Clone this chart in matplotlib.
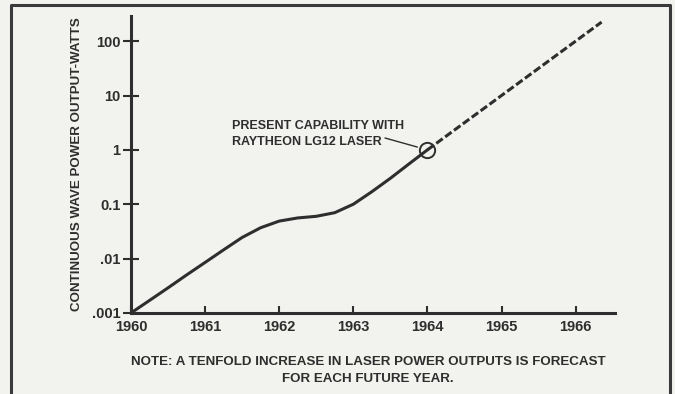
import matplotlib
matplotlib.use("Agg")
import matplotlib.pyplot as plt
from matplotlib.lines import Line2D

# measured output, watts
years = [1960.0, 1960.25, 1960.5, 1960.75, 1961.0, 1961.25, 1961.5, 1961.75,
         1962.0, 1962.25, 1962.5, 1962.75, 1963.0, 1963.25, 1963.5, 1963.75, 1964.0]
watts = [0.001, 0.0017, 0.0029, 0.005, 0.0085, 0.0145, 0.0245, 0.037,
         0.049, 0.056, 0.06, 0.07, 0.1, 0.17, 0.3, 0.55, 1.0]

# forecast: tenfold per year
fc_years = [1964.0, 1965.0, 1966.0, 1966.35]
fc_watts = [1.0, 10.0, 100.0, 224.0]

present_year = 1964.0
present_watts = 1.0

xticks = [1960, 1961, 1962, 1963, 1964, 1965, 1966]
yticks = [0.001, 0.01, 0.1, 1, 10, 100]
ylabels = [".001", ".01", "0.1", "1", "10", "100"]

ink = "#2e2e2e"
paper = "#f2f2ef"
plt.rcParams["font.family"] = ["Liberation Sans", "DejaVu Sans"]
plt.rcParams["font.weight"] = "bold"

fig = plt.figure(figsize=(6.75, 3.94), dpi=100, facecolor=paper)
ax = fig.add_axes([0.194, 0.2056, 0.717, 0.7534])
ax.set_facecolor(paper)

ax.plot(years, watts, color=ink, lw=2.2, solid_capstyle="round",
        solid_joinstyle="round")
ax.plot(fc_years, fc_watts, color=ink, lw=2.2, linestyle=(0, (2.6, 1.0)))
ax.plot([present_year], [present_watts], marker="o", ms=11, mfc="none",
        mec=ink, mew=1.4, zorder=5)

ax.text(232, 394 - 134, "PRESENT CAPABILITY WITH\nRAYTHEON LG12 LASER",
        transform=None, fontsize=9, color=ink, ha="left", va="center",
        linespacing=1.5)
ax.annotate("", xy=(present_year, present_watts), xytext=(385, 394 - 138),
            textcoords="figure pixels",
            arrowprops=dict(arrowstyle="-", color=ink, lw=1.0,
                            shrinkA=0, shrinkB=7.5))

ax.set_yscale("log")
ax.set_xlim(1960, 1966.53)
ax.set_ylim(0.001, 288)
ax.set_xticks(xticks)
ax.set_xticklabels([str(y) for y in xticks])
ax.set_yticks(yticks)
ax.set_yticklabels(ylabels)
ax.minorticks_off()

for s in ["top", "right"]:
    ax.spines[s].set_visible(False)
for s in ["left", "bottom"]:
    ax.spines[s].set_color(ink)
    ax.spines[s].set_linewidth(2.2)

ax.tick_params(axis="y", direction="inout", length=11, width=1.5, color=ink,
               labelsize=10.5, labelcolor=ink, pad=2)
ax.tick_params(axis="x", direction="in", length=5, width=1.5, color=ink,
               labelsize=10.5, labelcolor=ink, pad=5)

ax.set_ylabel("CONTINUOUS WAVE POWER OUTPUT-WATTS", fontsize=9.6,
              fontweight="bold", color=ink)
ax.yaxis.set_label_coords(-0.100, 0.5)

fig.text(0.545, 0.0596, "NOTE: A TENFOLD INCREASE IN LASER POWER OUTPUTS IS FORECAST\nFOR EACH FUTURE YEAR.",
         ha="center", va="center", fontsize=9.6, color=ink, linespacing=1.5)

# page frame, open at the bottom
fx0, fx1, fy = 10.5 / 675, 669.5 / 675, 1 - 5 / 394
fig.add_artist(Line2D([fx0, fx0, fx1, fx1], [0, fy, fy, 0],
                      transform=fig.transFigure, color="#3a3a3a", lw=2.2))

fig.savefig("out.png", dpi=100, facecolor=paper)
